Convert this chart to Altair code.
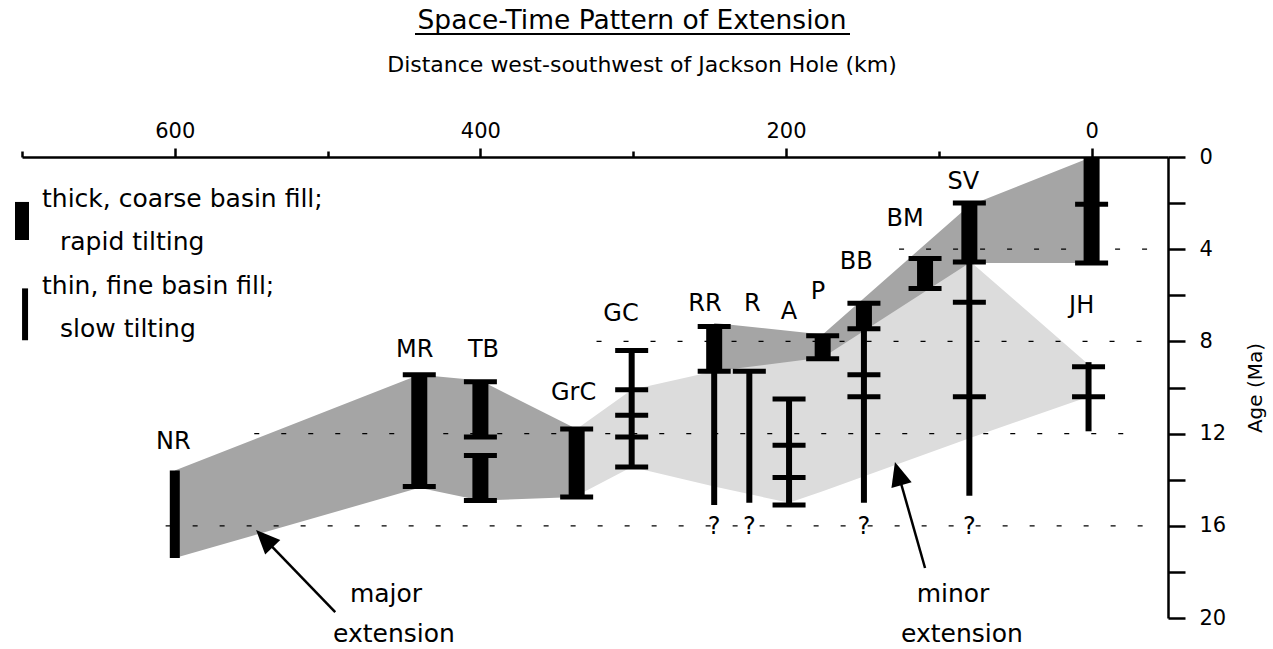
import altair as alt
import pandas as pd

FONT = "DejaVu Sans"

# ---- thick (coarse fill, rapid tilting) bars: locality, km, top age, bottom age
thick_site = ["NR", "MR", "TB", "TB", "GrC", "RR", "P", "BB", "BM", "SV", "JH"]
thick_km = [600, 440, 400, 400, 337, 247, 176, 149, 109, 80, 0]
thick_top = [13.6, 9.45, 9.75, 12.95, 11.8, 7.35, 7.75, 6.35, 4.4, 2.0, 0.0]
thick_bot = [17.4, 14.3, 12.15, 14.9, 14.75, 9.3, 8.75, 7.45, 5.7, 4.55, 4.6]

# ---- thin (fine fill, slow tilting) bars
thin_site = ["GC", "RR", "R", "A", "BB", "SV", "JH"]
thin_km = [301, 247, 224, 198, 149, 80, 2]
thin_top = [8.4, 9.3, 9.3, 10.5, 7.45, 4.55, 8.9]
thin_bot = [13.45, 15.1, 15.0, 15.1, 15.0, 14.7, 11.9]

# ---- horizontal age markers (caps)
cap_km = [440, 440, 400, 400, 400, 400, 337, 337, 301, 301, 301, 301, 301,
          247, 247, 224, 198, 198, 198, 198, 176, 176, 149, 149, 149, 149,
          109, 109, 80, 80, 80, 80, 0, 0, 2, 2]
cap_age = [9.45, 14.3, 9.75, 12.15, 12.95, 14.9, 11.8, 14.75, 8.4, 10.1, 11.2, 12.15, 13.45,
           7.35, 9.3, 9.3, 10.5, 12.5, 13.9, 15.1, 7.75, 8.75, 6.35, 7.45, 9.45, 10.4,
           4.4, 5.7, 2.0, 4.55, 6.3, 10.4, 2.05, 4.6, 9.1, 10.4]

# ---- locality labels
lab_text = ["NR", "MR", "TB", "GrC", "GC", "RR", "R", "A", "P", "BB", "BM", "SV", "JH"]
lab_km = [601, 443, 398, 339, 308, 253, 222, 198, 179, 154, 122, 84, 6.5]
lab_age = [12.67, 8.68, 8.68, 10.55, 7.12, 6.68, 6.68, 7.03, 6.16, 4.86, 2.99, 1.39, 6.77]

# ---- uncertain base markers
q_km = [247, 224, 149, 80]
q_age = [16.35, 16.35, 16.35, 16.35]

# ---- shaded regions (edge ages at each locality)
major_km = [600, 440, 400, 337]
major_top = [13.6, 9.45, 9.7, 11.8]
major_bot = [17.4, 14.35, 14.9, 14.75]

upper_km = [247, 176, 80, 0]
upper_top = [7.2, 7.7, 2.1, 0.0]
upper_bot = [9.3, 8.7, 4.6, 4.6]

minor_km = [337, 301, 247, 198, 176, 80, 2]
minor_top = [11.8, 10.1, 9.3, 8.8, 8.6, 4.5, 9.0]
minor_bot = [14.7, 13.45, 14.3, 15.0, 14.5, 12.2, 10.4]

# ---- dashed reference ages
dash_age = [4, 8, 12, 16]
dash_from = [126, 324, 548, 606]
dash_to = [-41, -38, -35, -44]

# ---- legend symbols
leg_km = [700, 698]
leg_top = [1.95, 5.7]
leg_bot = [3.6, 7.95]
leg_kind = ["thick", "thin"]

# ---- arrows (tail, head)
arr_km = [495, 109]
arr_age = [19.75, 17.83]
arr_km2 = [540, 126]
arr_age2 = [16.65, 13.86]

X_DOMAIN = [700, -50]
Y_DOMAIN = [0, 20]
xs = alt.Scale(domain=X_DOMAIN, nice=False, zero=False)
ys = alt.Scale(domain=Y_DOMAIN, reverse=True, nice=False, zero=False)

x_axis = alt.Axis(
    orient="top", values=[700, 600, 500, 400, 300, 200, 100, 0], format="d",
    labelExpr="datum.value % 200 === 0 ? datum.label : ''",
    tickSize={"condition": {"test": "datum.value % 200 === 0", "value": 9}, "value": 6},
    tickWidth=2.5, domainWidth=2.5, domainColor="black", tickColor="black",
    labelFontSize=21, labelFont=FONT, labelColor="black", labelPadding=7,
    grid=False, title=None,
)
y_axis = alt.Axis(
    orient="right", values=list(range(0, 21, 2)),
    labelExpr="datum.value % 4 === 0 ? datum.label : ''",
    tickSize=17, tickWidth=2.5, domainWidth=2.5, domainColor="black", tickColor="black",
    labelFontSize=21, labelFont=FONT, labelColor="black", labelPadding=14, labelAlign="left",
    grid=False, title="Age (Ma)", titleAngle=270, titleFontSize=20, titleFont=FONT,
    titleFontWeight="normal", titleColor="black", titlePadding=40,
)

def area(km, top, bot, color):
    df = pd.DataFrame({"km": km, "top": top, "bot": bot})
    return alt.Chart(df).mark_area(color=color, opacity=1, interpolate="linear").encode(
        x=alt.X("km:Q", scale=xs, axis=x_axis),
        y=alt.Y("top:Q", scale=ys, axis=y_axis),
        y2="bot:Q",
    )

minor = area(minor_km, minor_top, minor_bot, "#dcdcdc")
major = area(major_km, major_top, major_bot, "#a5a5a5")
upper = area(upper_km, upper_top, upper_bot, "#a5a5a5")

dash_df = pd.DataFrame({"age": dash_age, "a": dash_from, "b": dash_to})
dashes = alt.Chart(dash_df).mark_rule(color="black", strokeWidth=1.2, strokeDash=[5, 22]).encode(
    x=alt.X("a:Q", scale=xs), x2="b:Q", y=alt.Y("age:Q", scale=ys))

thin_df = pd.DataFrame({"site": thin_site, "km": thin_km, "top": thin_top, "bot": thin_bot})
thin = alt.Chart(thin_df).mark_rule(color="black", strokeWidth=6, strokeCap="butt").encode(
    x=alt.X("km:Q", scale=xs), y=alt.Y("top:Q", scale=ys), y2="bot:Q")

thick_df = pd.DataFrame({"site": thick_site, "km": thick_km, "top": thick_top, "bot": thick_bot})
thick = alt.Chart(thick_df).mark_rule(color="black", strokeCap="butt").encode(
    x=alt.X("km:Q", scale=xs), y=alt.Y("top:Q", scale=ys), y2="bot:Q",
    strokeWidth=alt.condition("datum.site === 'NR'", alt.value(10), alt.value(16)))

cap_df = pd.DataFrame({"km": cap_km, "age": cap_age})
caps = alt.Chart(cap_df).mark_tick(orient="horizontal", color="black", size=33, thickness=5, opacity=1).encode(
    x=alt.X("km:Q", scale=xs), y=alt.Y("age:Q", scale=ys))

lab_df = pd.DataFrame({"t": lab_text, "km": lab_km, "age": lab_age})
labels = alt.Chart(lab_df).mark_text(font=FONT, fontSize=24, align="center", baseline="alphabetic", color="black").encode(
    x=alt.X("km:Q", scale=xs), y=alt.Y("age:Q", scale=ys), text="t:N")

q_df = pd.DataFrame({"km": q_km, "age": q_age, "t": ["?"] * len(q_km)})
qs = alt.Chart(q_df).mark_text(font=FONT, fontSize=24, align="center", baseline="alphabetic", color="black").encode(
    x=alt.X("km:Q", scale=xs), y=alt.Y("age:Q", scale=ys), text="t:N")

leg_df = pd.DataFrame({"kind": leg_kind, "km": leg_km, "top": leg_top, "bot": leg_bot})
leg_bars = alt.Chart(leg_df).mark_rule(color="black", strokeCap="butt").encode(
    x=alt.X("km:Q", scale=xs), y=alt.Y("top:Q", scale=ys), y2="bot:Q",
    strokeWidth=alt.condition("datum.kind === 'thick'", alt.value(14), alt.value(6)))

arr_df = pd.DataFrame({"km": arr_km, "age": arr_age, "km2": arr_km2, "age2": arr_age2})
arr_lines = alt.Chart(arr_df).mark_rule(color="black", strokeWidth=2.5).encode(
    x=alt.X("km:Q", scale=xs), y=alt.Y("age:Q", scale=ys), x2="km2:Q", y2="age2:Q")

HEAD = "M0,-1L0.7,0.6L-0.7,0.6Z"
head1 = alt.Chart(arr_df.iloc[[0]]).mark_point(shape=HEAD, size=900, filled=True, color="black", opacity=1, angle=316).encode(
    x=alt.X("km2:Q", scale=xs), y=alt.Y("age2:Q", scale=ys))
head2 = alt.Chart(arr_df.iloc[[1]]).mark_point(shape=HEAD, size=900, filled=True, color="black", opacity=1, angle=344).encode(
    x=alt.X("km2:Q", scale=xs), y=alt.Y("age2:Q", scale=ys))


def note(txt, x, y, size, align="left"):
    return alt.Chart(pd.DataFrame({"t": [txt]})).mark_text(
        font=FONT, fontSize=size, align=align, baseline="alphabetic", color="black"
    ).encode(x=alt.value(x), y=alt.value(y), text="t:N")

notes = [
    note("Space-Time Pattern of Extension", 610, -128, 26.5, "center"),
    note("Distance west-southwest of Jackson Hole (km)", 620, -85, 22, "center"),
    note("thick, coarse basin fill;", 20, 50, 25),
    note("rapid tilting", 38, 93, 25),
    note("thin, fine basin fill;", 20, 137, 25),
    note("slow tilting", 38, 180, 25),
    note("major", 364, 445, 25, "center"),
    note("extension", 372, 485, 25, "center"),
    note("minor", 931, 445, 25, "center"),
    note("extension", 940, 485, 25, "center"),
]

underline = alt.Chart(pd.DataFrame({"k": [0]})).mark_rule(color="black", strokeWidth=2).encode(
    x=alt.value(393), x2=alt.value(828), y=alt.value(-123))

chart = alt.layer(
    minor, major, upper, dashes, thin, thick, caps, labels, qs, leg_bars,
    arr_lines, head1, head2, underline, *notes
).properties(
    width=1146, height=461,
    padding={"left": 22, "top": 157, "right": 105, "bottom": 31},
    autosize=alt.AutoSizeParams(type="none"),
    background="white",
).configure_view(stroke=None)

chart.save("out.html", embed_options={"renderer": "svg", "actions": False})
